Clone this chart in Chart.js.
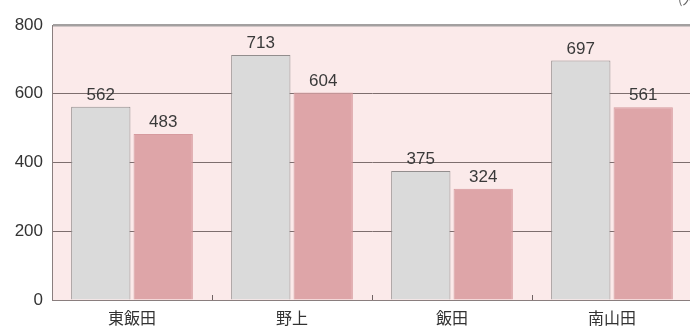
<!DOCTYPE html>
<html>
<head>
<meta charset="utf-8">
<script src="https://cdn.jsdelivr.net/npm/chart.js@4"></script>
<style>
  html, body { margin: 0; padding: 0; background: #fff; overflow: hidden; }
  #wrap { width: 705px; height: 329px; }
</style>
</head>
<body>
<div id="wrap"><canvas id="chart" width="705" height="329"></canvas></div>
<script>
const categories = ['東飯田', '野上', '飯田', '南山田'];
const seriesA = [562, 713, 375, 697];
const seriesB = [483, 604, 324, 561];
const yTicks = [0, 200, 400, 600, 800];

const numFont = '"Liberation Sans", "DejaVu Sans", sans-serif';
const jpFont = '"Noto Sans CJK JP", sans-serif';

const plotBg = {
    id: 'plotBg',
    beforeDraw(chart) {
        const { ctx, chartArea: a } = chart;
        ctx.save();
        ctx.fillStyle = '#fbeaea';
        ctx.fillRect(a.left, a.top, a.right - a.left, a.bottom - a.top);
        ctx.restore();
    }
};

const extras = {
    id: 'extras',
    afterDatasetsDraw(chart) {
        const { ctx, chartArea: a } = chart;
        const x = chart.scales.x;
        ctx.save();
        // value labels
        ctx.fillStyle = '#3a3a3a';
        ctx.font = '17px ' + numFont;
        ctx.textAlign = 'center';
        ctx.textBaseline = 'bottom';
        chart.data.datasets.forEach((ds, i) => {
            chart.getDatasetMeta(i).data.forEach((bar, j) => {
                ctx.fillText(ds.data[j], bar.x, bar.y - 3);
            });
        });
        // small category ticks inside the plot
        ctx.strokeStyle = '#6f6262';
        ctx.lineWidth = 1;
        const half = (x.getPixelForValue(1) - x.getPixelForValue(0)) / 2;
        for (let i = 0; i < categories.length - 1; i++) {
            const px = Math.round(x.getPixelForValue(i) + half) + 0.5;
            ctx.beginPath();
            ctx.moveTo(px, a.bottom);
            ctx.lineTo(px, a.bottom - 5);
            ctx.stroke();
        }
        // unit fragment at top right (mostly cut off)
        ctx.fillStyle = '#666';
        ctx.font = '13px ' + jpFont;
        ctx.textAlign = 'left';
        ctx.textBaseline = 'top';
        ctx.fillText('(人)', 678, -7);
        ctx.restore();
    }
};

new Chart(document.getElementById('chart').getContext('2d'), {
    type: 'bar',
    data: {
        labels: categories,
        datasets: [
            {
                data: seriesA,
                backgroundColor: '#dadada',
                borderColor: '#928d8d',
                borderWidth: 1,
                categoryPercentage: 0.78,
                barPercentage: 0.95
            },
            {
                data: seriesB,
                backgroundColor: '#dea5a8',
                borderColor: '#d69a9e',
                borderWidth: 1,
                categoryPercentage: 0.78,
                barPercentage: 0.95
            }
        ]
    },
    options: {
        responsive: false,
        animation: false,
        layout: { padding: { left: 0, top: 25, right: 13, bottom: 0 } },
        plugins: { legend: { display: false }, tooltip: { enabled: false } },
        scales: {
            x: {
                grid: { display: false },
                border: { display: true, color: '#8a7e7e', width: 1 },
                ticks: { color: '#333', font: { family: jpFont, size: 16 }, padding: 0 },
                afterFit(s) { s.height = 29; }
            },
            y: {
                min: 0,
                max: 800,
                afterBuildTicks(s) { s.ticks = yTicks.map(v => ({ value: v })); },
                grid: {
                    drawTicks: false,
                    color: c => c.tick.value === 800 ? '#a3a0a0' : '#7d6e6e',
                    lineWidth: c => c.tick.value === 800 ? 2.5 : 1
                },
                border: { display: true, color: '#8a7e7e', width: 1 },
                ticks: { color: '#333', font: { family: numFont, size: 17 }, padding: 9 },
                afterFit(s) { s.width = 52; }
            }
        }
    },
    plugins: [plotBg, extras]
});
</script>
</body>
</html>
